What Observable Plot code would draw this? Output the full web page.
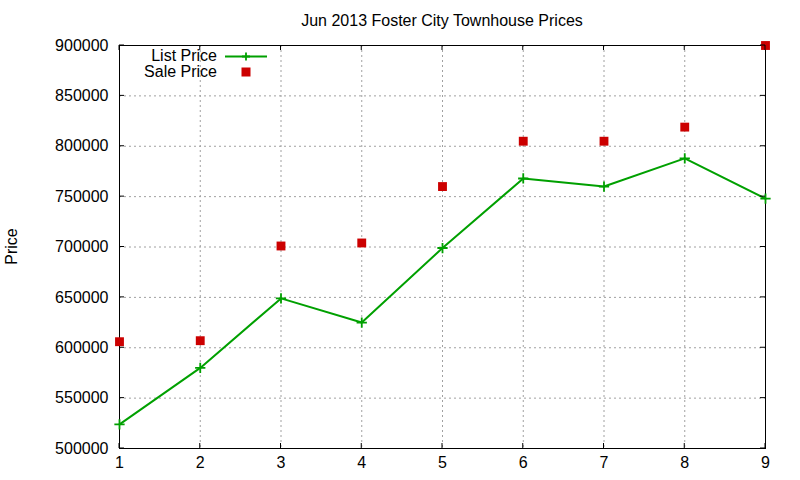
<!DOCTYPE html>
<html>
<head>
<meta charset="utf-8">
<script src="https://cdn.jsdelivr.net/npm/d3@7"></script>
<script src="https://cdn.jsdelivr.net/npm/@observablehq/plot@0.6"></script>
<style>
  html, body { margin: 0; padding: 0; background: #fff; }
  svg { font-family: "Liberation Sans", Arial, sans-serif; }
</style>
</head>
<body>
<div id="chart"></div>
<script>
const months = [1, 2, 3, 4, 5, 6, 7, 8, 9];
const listPrice = [524000, 580000, 649000, 625000, 699000, 768000, 760000, 788000, 748000];
const salePrice = [606000, 607000, 701000, 704000, 760000, 805000, 805000, 819000, 900000];
const xTicks = [1, 2, 3, 4, 5, 6, 7, 8, 9];
const yTicks = [500000, 550000, 600000, 650000, 700000, 750000, 800000, 850000, 900000];
const title = "Jun 2013 Foster City Townhouse Prices";
const yLabel = "Price";
const seriesNames = ["List Price", "Sale Price"];

const listData = months.map((m, i) => ({month: m, price: listPrice[i]}));
const saleData = months.map((m, i) => ({month: m, price: salePrice[i]}));

const GREEN = "#00a000";
const RED = "#cc0000";

const plot = Plot.plot({
  width: 800,
  height: 480,
  marginLeft: 119,
  marginRight: 35,
  marginTop: 45,
  marginBottom: 32,
  style: {fontFamily: "'Liberation Sans', Arial, sans-serif", background: "#fff"},
  x: {domain: [1, 9], ticks: xTicks},
  y: {domain: [500000, 900000], ticks: yTicks},
  marks: [
    Plot.gridX(xTicks, {stroke: "#a0a0a0", strokeOpacity: 1, strokeDasharray: "2,3"}),
    Plot.gridY(yTicks, {stroke: "#a0a0a0", strokeOpacity: 1, strokeDasharray: "2,3"}),
    Plot.axisX(xTicks, {tickSize: 0, tickPadding: 8, fontSize: 16, fill: "#000", label: null, tickFormat: d => String(d)}),
    Plot.axisY(yTicks, {tickSize: 0, tickPadding: 11, fontSize: 16, fill: "#000", label: null, tickFormat: d => String(d)}),
    Plot.frame({stroke: "#000", strokeWidth: 1}),
    Plot.line(listData, {x: "month", y: "price", stroke: GREEN, strokeWidth: 2}),
    Plot.dot(listData, {x: "month", y: "price", symbol: "plus", stroke: GREEN, strokeWidth: 1.8, r: 3.4}),
    Plot.dot(saleData, {x: "month", y: "price", symbol: "square", fill: RED, stroke: "none", r: 5})
  ]
});

document.getElementById("chart").appendChild(plot);

const svg = d3.select(plot);
const sx = plot.scale("x");
const sy = plot.scale("y");
const x0 = sx.range[0], x1 = sx.range[1];
const y0 = sy.range[0], y1 = sy.range[1];
const xs = v => sx.apply(v), ys = v => sy.apply(v);

// inward ticks, mirrored
const tg = svg.append("g").attr("stroke", "#000").attr("stroke-width", 1);
yTicks.forEach(t => {
  const y = ys(t);
  tg.append("line").attr("x1", x0).attr("x2", x0 + 5).attr("y1", y).attr("y2", y);
  tg.append("line").attr("x1", x1).attr("x2", x1 - 5).attr("y1", y).attr("y2", y);
});
xTicks.forEach(t => {
  const x = xs(t);
  tg.append("line").attr("x1", x).attr("x2", x).attr("y1", y0).attr("y2", y0 - 5);
  tg.append("line").attr("x1", x).attr("x2", x).attr("y1", y1).attr("y2", y1 + 5);
});

// title
svg.append("text").attr("x", (x0 + x1) / 2).attr("y", 26)
  .attr("text-anchor", "middle").attr("font-size", 16).attr("fill", "#000").text(title);

// y label
svg.append("text").attr("transform", `translate(17,${(y0 + y1) / 2}) rotate(-90)`)
  .attr("text-anchor", "middle").attr("font-size", 16).attr("fill", "#000").text(yLabel);

// legend
const lg = svg.append("g").attr("font-size", 16).attr("fill", "#000");
lg.append("text").attr("x", 217).attr("y", 61).attr("text-anchor", "end").text(seriesNames[0]);
lg.append("text").attr("x", 217).attr("y", 77).attr("text-anchor", "end").text(seriesNames[1]);
lg.append("line").attr("x1", 225).attr("x2", 267).attr("y1", 56.5).attr("y2", 56.5)
  .attr("stroke", GREEN).attr("stroke-width", 2);
lg.append("path").attr("d", "M242,56.5h8M246,52.5v8").attr("stroke", GREEN).attr("stroke-width", 1.8).attr("fill", "none");
lg.append("rect").attr("x", 241.5).attr("y", 67.5).attr("width", 9).attr("height", 9).attr("fill", RED);
</script>
</body>
</html>
